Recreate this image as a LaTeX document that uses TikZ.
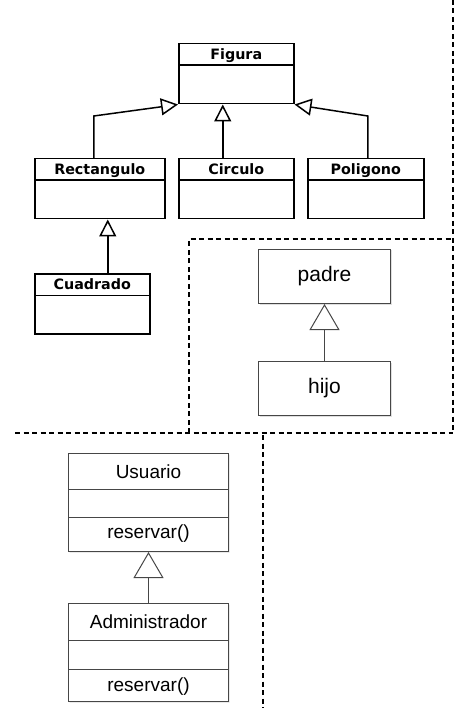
\documentclass[tikz,border=0pt]{standalone}
\usepackage{fontspec}
\usepackage{tikz}
\newfontfamily\umlfont{DejaVu Sans}
\newfontfamily\helvfont{Liberation Sans}
\definecolor{umlgray}{RGB}{70,70,70}
\usetikzlibrary{positioning,arrows.meta,shapes.multipart,shadows}
\tikzset{%
  klass/.style={draw, line width=1.5pt, rectangle split, rectangle split parts=2,
    inner xsep=0pt, inner ysep=0pt, anchor=north west,
    font=\umlfont\bfseries\fontsize{14.3}{16}\selectfont},% bold class, name + body
  umlbox/.style={draw=umlgray, line width=1pt, rectangle split, rectangle split parts=3,
    inner xsep=0pt, inner ysep=0pt, anchor=north west, fill=white,
    drop shadow={shadow xshift=1pt, shadow yshift=-1pt, opacity=0.25},
    font=\helvfont\fontsize{19}{22}\selectfont},% class with one method
  plainbox/.style={draw=umlgray, line width=1pt, rectangle, anchor=north west, fill=white,
    minimum width=132pt, minimum height=54pt,
    drop shadow={shadow xshift=1pt, shadow yshift=-1pt, opacity=0.25},
    font=\helvfont\fontsize{21}{25}\selectfont},% padre / hijo
  gen/.style={line width=1.5pt, -{Triangle[open, length=17pt, width=17pt]}},% small inheritance arrow
  genbig/.style={draw=umlgray, line width=1pt, -{Triangle[open, length=26pt, width=30pt]}},% big inheritance arrow
  frame/.style={line width=1.2pt, dash pattern=on 5pt off 3.5pt}% dashed separators
}
\newcommand*{\hdr}[1]{\rule[-5pt]{0pt}{20pt}#1}
\newcommand*{\bdy}{\rule{0pt}{37pt}}
\begin{document}
\begin{tikzpicture}[x=1pt, y=-1pt]
\useasboundingbox (0,0) rectangle (466,708);
% upper hierarchy
\node[klass, minimum width=115pt] (figura) at (178,43) {\hdr{Figura}\nodepart{two}\bdy};
\node[klass, minimum width=130pt] (rect) at (34,158) {\hdr{Rectangulo}\nodepart{two}\bdy};
\node[klass, minimum width=115pt] (circ) at (178,158) {\hdr{Circulo}\nodepart{two}\bdy};
\node[klass, minimum width=116pt] (poli) at (307,158) {\hdr{Poligono}\nodepart{two}\bdy};
\node[klass, minimum width=115pt] (cuad) at (34,273) {\hdr{Cuadrado}\nodepart{two}\bdy};
\draw[gen] ([xshift=-6pt]rect.north) -- ++(0,-42) -- (figura.south west);
\draw[gen] ([xshift=-13.5pt]circ.north) coordinate (c1) -- (c1 |- figura.south);
\draw[gen] ([xshift=2pt]poli.north) -- ++(0,-42) -- (figura.south east);
\draw[gen] ([xshift=15.5pt]cuad.north) coordinate (c2) -- (c2 |- rect.south);
% padre / hijo
\node[plainbox] (padre) at (258,249) {padre};
\node[plainbox] (hijo) at (258,361) {hijo};
\draw[genbig] (hijo) -- (padre);
% usuario / administrador
\node[umlbox, minimum width=160pt] (usuario) at (68,453)
  {\rule[-11pt]{0pt}{35pt}Usuario\nodepart{two}\rule{0pt}{27pt}\nodepart{three}\rule[-13pt]{0pt}{33pt}reservar()};
\node[umlbox, minimum width=160pt] (admin) at (68,603)
  {\rule[-12pt]{0pt}{36pt}Administrador\nodepart{two}\rule{0pt}{28pt}\nodepart{three}\rule[-10pt]{0pt}{31pt}reservar()};
\draw[genbig] (admin) -- (usuario);
% dashed frames
\draw[frame] (453,0) -- (453,433);
\draw[frame] (189,433) -- (189,239) -- (453,239);
\draw[frame] (15,433) -- (453,433);
\draw[frame] (263,435) -- (263,708);
\end{tikzpicture}
\end{document}
